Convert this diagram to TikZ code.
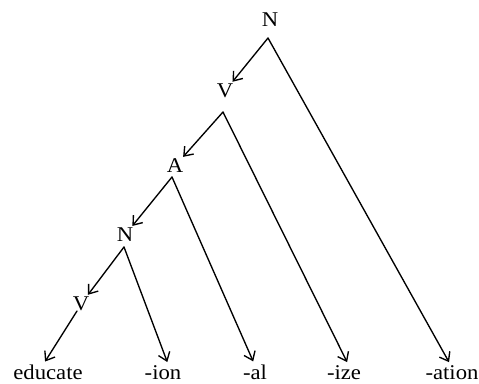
\documentclass[tikz,border=0pt]{standalone}
\usepackage{fontspec}
\setmainfont[FakeStretch=1.08]{Liberation Serif}
\usetikzlibrary{arrows.meta,positioning,calc}
\begin{document}
\begin{tikzpicture}[x=1pt, y=-1pt, line cap=round, line join=round,
  every node/.style={font=\fontsize{21}{25}\selectfont},
  cat/.style={inner sep=2pt},
  leaf/.style={inner sep=1pt, anchor=base},
  arr/.style={-{Straight Barb[length=8pt,width=12pt]}, line width=1.35pt}]
  \useasboundingbox (0,0) rectangle (479,383);
  \node[cat] (n0) at (270,20) {N};
  \node[cat] (v1) at (225,91) {V};
  \node[cat] (a2) at (175,166) {A};
  \node[cat] (n3) at (125,235) {N};
  \node[cat] (v4) at (81,304) {V};
  \coordinate (n0b) at (268,38);
  \coordinate (v1b) at (223,112);
  \coordinate (a2b) at (172,177);
  \coordinate (n3b) at (124,247);
  \coordinate (v4b) at (77,311);
  \node[leaf] (educate) at (48,379) {educate};
  \node[leaf] (ion) at (163,379) {-ion};
  \node[leaf] (al) at (255,379) {-al};
  \node[leaf] (ize) at (344,379) {-ize};
  \node[leaf] (ation) at (452,379) {-ation};
  \draw[arr] (n0b) -- (v1);
  \draw[arr, shorten >=2pt] (n0b) -- ([xshift=-2pt]ation.north);
  \draw[arr] (v1b) -- (a2);
  \draw[arr, shorten >=2pt] (v1b) -- ([xshift=4pt]ize.north);
  \draw[arr] (a2b) -- (n3);
  \draw[arr, shorten >=2pt] (a2b) -- ([xshift=-1pt]al.north);
  \draw[arr] (n3b) -- (v4);
  \draw[arr, shorten >=2pt] (n3b) -- ([xshift=5pt]ion.north);
  \draw[arr, shorten >=2pt] (v4b) -- ([xshift=-4pt]educate.north);
\end{tikzpicture}
\end{document}
